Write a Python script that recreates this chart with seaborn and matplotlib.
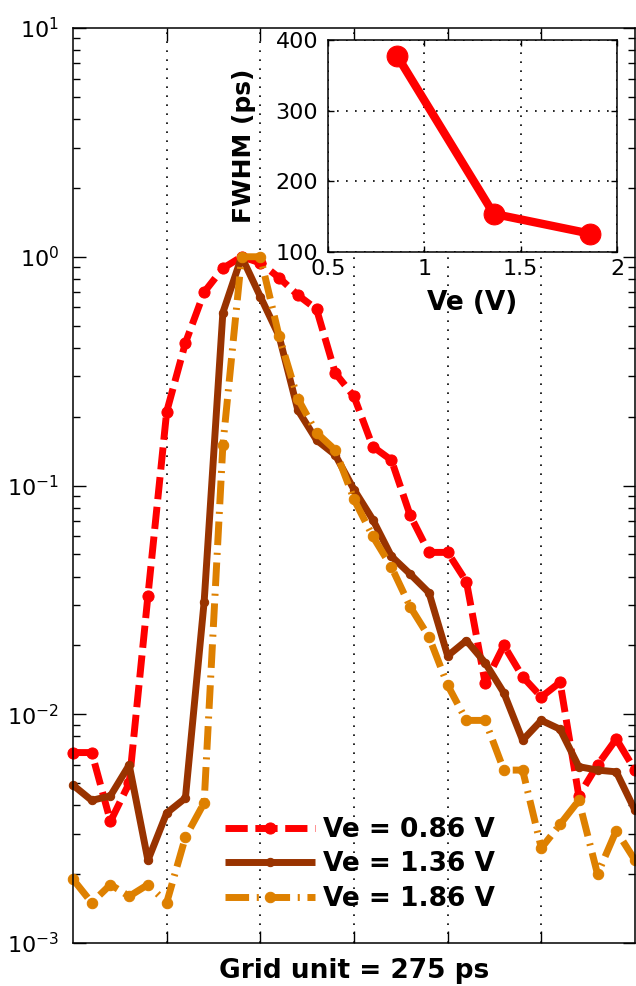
import matplotlib
matplotlib.use("Agg")
import matplotlib.pyplot as plt
import seaborn as sns
import pandas as pd
from matplotlib.ticker import LogLocator, NullFormatter, FixedLocator

# Sample times in grid units (1 unit = 275 ps)
t_grid = [0.0, 0.2, 0.4, 0.6, 0.8, 1.0, 1.2, 1.4, 1.6, 1.8, 2.0,
          2.2, 2.4, 2.6, 2.8, 3.0, 3.2, 3.4, 3.6, 3.8, 4.0,
          4.2, 4.4, 4.6, 4.8, 5.0, 5.2, 5.4, 5.6, 5.8, 6.0]

# Normalised pulse intensity for each emitter bias
pulse_086 = [0.0068, 0.0068, 0.0034, 0.0050, 0.033, 0.21, 0.42, 0.70, 0.89, 1.00, 0.94,
             0.81, 0.68, 0.59, 0.31, 0.245, 0.148, 0.129, 0.074, 0.051, 0.051,
             0.038, 0.0137, 0.020, 0.0146, 0.0119, 0.0138, 0.0044, 0.0060, 0.0078, 0.0057]
pulse_136 = [0.0049, 0.0042, 0.0044, 0.0060, 0.0023, 0.0037, 0.0043, 0.031, 0.57, 1.00, 0.67,
             0.45, 0.214, 0.158, 0.136, 0.096, 0.071, 0.049, 0.041, 0.034, 0.018,
             0.021, 0.0168, 0.0124, 0.0077, 0.0094, 0.0086, 0.0059, 0.0057, 0.0056, 0.0038]
pulse_186 = [0.0019, 0.0015, 0.0018, 0.0016, 0.0018, 0.0015, 0.0029, 0.0041, 0.15, 1.00, 1.00,
             0.45, 0.24, 0.17, 0.143, 0.087, 0.060, 0.044, 0.0295, 0.0218, 0.0134,
             0.0094, 0.0094, 0.0057, 0.0057, 0.0026, 0.0033, 0.0042, 0.0020, 0.0031, 0.0023]
series_labels = ["Ve = 0.86 V", "Ve = 1.36 V", "Ve = 1.86 V"]

# Inset: pulse width versus bias
ve_volts = [0.86, 1.36, 1.86]
fwhm_ps = [377, 154, 126]

sns.set_style("ticks")
plt.rcParams["font.family"] = ["DejaVu Sans"]
plt.rcParams["mathtext.default"] = "regular"
for key in ("text.color", "axes.labelcolor", "xtick.color", "ytick.color"):
    plt.rcParams[key] = "black"

W, H = 636, 986
fig = plt.figure(figsize=(W / 100, H / 100), dpi=100)
ax = fig.add_axes([73 / W, 1 - 943 / H, 562 / W, 915 / H])

df = pd.DataFrame({"t": t_grid, "0.86": pulse_086, "1.36": pulse_136, "1.86": pulse_186})

styles = [
    ("0.86", "#FF0000", (3.2, 1.1), 8),
    ("1.36", "#993300", None, 6),
    ("1.86", "#DE8000", (3.4, 1.1, 0.3, 1.1), 7.5),
]
for (col, color, dash, ms), lab in zip(styles, series_labels):
    sns.lineplot(data=df, x="t", y=col, ax=ax, color=color, lw=5, marker="o",
                 ms=ms, mec=color, mfc=color, label=lab, clip_on=False)
    ln = ax.lines[-1]
    if dash is not None:
        ln.set_dashes(dash)
    ln.set_solid_capstyle("butt")

ax.set_yscale("log")
ax.set_ylim(1e-3, 1e1)
ax.set_xlim(0, 6)
ax.yaxis.set_major_locator(LogLocator(base=10, numticks=10))
ax.yaxis.set_minor_locator(LogLocator(base=10, subs=range(2, 10), numticks=50))
ax.yaxis.set_minor_formatter(NullFormatter())
ax.xaxis.set_major_locator(FixedLocator([1, 2, 3, 4, 5]))
ax.set_xticklabels([])
ax.tick_params(axis="both", which="major", direction="in", length=9, width=1,
               top=True, right=True, labelsize=16, pad=10, colors="black")
ax.tick_params(axis="y", which="minor", direction="in", length=5, width=1,
               left=True, right=True, colors="black")
ax.grid(axis="x", color="k", linestyle=(0, (1, 4.4)), lw=1.2)
ax.grid(axis="y", visible=False)
for s in ax.spines.values():
    s.set_linewidth(1.1)
    s.set_color("k")
ax.set_ylabel("")
ax.set_xlabel("Grid unit = 275 ps", fontsize=19, fontweight="bold", labelpad=1,
              color="black")

leg = ax.legend(loc="upper left", bbox_to_anchor=(225 / W, 1 - 817 / H),
                bbox_transform=fig.transFigure, frameon=False, borderpad=0,
                borderaxespad=0, handlelength=3.4, handletextpad=0.3,
                labelspacing=0.32, numpoints=1,
                prop={"weight": "bold", "size": 19})
for txt in leg.get_texts():
    txt.set_color("black")

# Inset axes
axin = fig.add_axes([328 / W, 1 - 252 / H, 289 / W, 212 / H])
axin.set_facecolor("white")
sns.lineplot(x=ve_volts, y=fwhm_ps, ax=axin, color="#FF0000", lw=6, marker="o",
             ms=15, mec="#FF0000", mfc="#FF0000", clip_on=False)
axin.set_xlim(0.5, 2)
axin.set_ylim(100, 400)
axin.set_xticks([0.5, 1, 1.5, 2])
axin.set_xticklabels(["0.5", "1", "1.5", "2"])
axin.set_yticks([100, 200, 300, 400])
axin.tick_params(axis="both", direction="in", length=4, width=1, labelsize=16,
                 top=True, right=True, colors="black")
axin.tick_params(axis="x", pad=5)
axin.tick_params(axis="y", pad=7)
axin.grid(True, color="k", linestyle=(0, (1, 4.4)), lw=1.2)
for s in axin.spines.values():
    s.set_linewidth(1.1)
    s.set_color("k")
axin.set_xlabel("Ve (V)", fontsize=19, fontweight="bold", labelpad=8, color="black")
axin.set_ylabel("FWHM (ps)", fontsize=18, fontweight="bold", labelpad=14, color="black")

fig.savefig("out.png", dpi=100)
